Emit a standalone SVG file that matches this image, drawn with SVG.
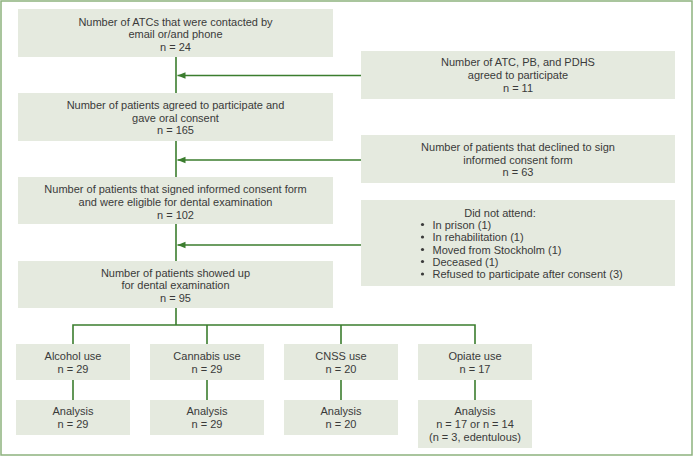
<svg xmlns="http://www.w3.org/2000/svg" width="693" height="456" viewBox="0 0 693 456">
<style>
.box{fill:#e5eadf;}
.t{font-family:"Liberation Sans",Arial,sans-serif;font-size:11px;fill:#3a3a3a;text-anchor:middle;}
.l{font-family:"Liberation Sans",Arial,sans-serif;font-size:11px;fill:#3a3a3a;}
.c{stroke:#3b7d2e;stroke-width:1.6;fill:none;}
</style>
<defs>
<marker id="ah" markerWidth="10" markerHeight="8" refX="8" refY="4" orient="auto" markerUnits="userSpaceOnUse">
<path d="M0,0.8 L8,4 L0,7.2 Z" fill="#3b7d2e"/>
</marker>
</defs>
<rect x="1" y="1" width="691" height="454" fill="#fff" stroke="#8db27e" stroke-width="1.5"/>
<g id="connectors">
<path class="c" d="M176,57 V93"/>
<path class="c" d="M176,141 V177"/>
<path class="c" d="M176,224 V261"/>
<path class="c" d="M176,308 V325"/>
<path class="c" d="M361,75.5 H177.5" marker-end="url(#ah)"/>
<path class="c" d="M361,160 H177.5" marker-end="url(#ah)"/>
<path class="c" d="M361,245 H177.5" marker-end="url(#ah)"/>
<path class="c" d="M73,344 V325 H475 V344"/>
<path class="c" d="M207,325 V344"/>
<path class="c" d="M341,325 V344"/>
<path class="c" d="M73,380 V400"/>
<path class="c" d="M207,380 V400"/>
<path class="c" d="M341,380 V400"/>
<path class="c" d="M475,380 V400"/>
</g>
<g id="n1"><rect class="box" x="18" y="9" width="315" height="48"/>
<text class="t" x="175.5" y="26">Number of ATCs that were contacted by</text>
<text class="t" x="175.5" y="38">email or/and phone</text>
<text class="t" x="175.5" y="51">n = 24</text></g>
<g id="n2"><rect class="box" x="18" y="93" width="315" height="48"/>
<text class="t" x="175.5" y="109">Number of patients agreed to participate and</text>
<text class="t" x="175.5" y="122">gave oral consent</text>
<text class="t" x="175.5" y="134">n = 165</text></g>
<g id="n3"><rect class="box" x="18" y="177" width="315" height="47"/>
<text class="t" x="175.5" y="193">Number of patients that signed informed consent form</text>
<text class="t" x="175.5" y="206">and were eligible for dental examination</text>
<text class="t" x="175.5" y="219">n = 102</text></g>
<g id="n4"><rect class="box" x="18" y="261" width="315" height="47"/>
<text class="t" x="175.5" y="277">Number of patients showed up</text>
<text class="t" x="175.5" y="289">for dental examination</text>
<text class="t" x="175.5" y="302">n = 95</text></g>
<g id="r1"><rect class="box" x="361" y="51" width="314" height="48"/>
<text class="t" x="518" y="66">Number of ATC, PB, and PDHS</text>
<text class="t" x="518" y="79">agreed to participate</text>
<text class="t" x="518" y="92">n = 11</text></g>
<g id="r2"><rect class="box" x="361" y="135" width="314" height="48"/>
<text class="t" x="518" y="151">Number of patients that declined to sign</text>
<text class="t" x="518" y="164">informed consent form</text>
<text class="t" x="518" y="176">n = 63</text></g>
<g id="r3"><rect class="box" x="361" y="200" width="314" height="86"/>
<text class="t" x="500" y="217">Did not attend:</text>
<g fill="#3a3a3a"><circle cx="422.5" cy="224.5" r="1.6"/><circle cx="422.5" cy="237" r="1.6"/><circle cx="422.5" cy="249.5" r="1.6"/><circle cx="422.5" cy="261.5" r="1.6"/><circle cx="422.5" cy="274" r="1.6"/></g>
<text class="l" x="432.5" y="228.5">In prison (1)</text>
<text class="l" x="432.5" y="241">In rehabilitation (1)</text>
<text class="l" x="432.5" y="253.5">Moved from Stockholm (1)</text>
<text class="l" x="432.5" y="265.5">Deceased (1)</text>
<text class="l" x="432.5" y="278">Refused to participate after consent (3)</text></g>
<g id="g1"><rect class="box" x="16" y="344" width="114" height="36"/>
<text class="t" x="73" y="360">Alcohol use</text><text class="t" x="73" y="373">n = 29</text></g>
<g id="g2"><rect class="box" x="150" y="344" width="114" height="36"/>
<text class="t" x="207" y="360">Cannabis use</text><text class="t" x="207" y="373">n = 29</text></g>
<g id="g3"><rect class="box" x="284" y="344" width="114" height="36"/>
<text class="t" x="341" y="360">CNSS use</text><text class="t" x="341" y="373">n = 20</text></g>
<g id="g4"><rect class="box" x="418" y="344" width="114" height="36"/>
<text class="t" x="475" y="360">Opiate use</text><text class="t" x="475" y="373">n = 17</text></g>
<g id="a1"><rect class="box" x="16" y="400" width="114" height="35"/>
<text class="t" x="73" y="415">Analysis</text><text class="t" x="73" y="428">n = 29</text></g>
<g id="a2"><rect class="box" x="150" y="400" width="114" height="35"/>
<text class="t" x="207" y="415">Analysis</text><text class="t" x="207" y="428">n = 29</text></g>
<g id="a3"><rect class="box" x="284" y="400" width="114" height="35"/>
<text class="t" x="341" y="415">Analysis</text><text class="t" x="341" y="428">n = 20</text></g>
<g id="a4"><rect class="box" x="418" y="400" width="114" height="48"/>
<text class="t" x="475" y="415">Analysis</text><text class="t" x="475" y="428">n = 17 or n = 14</text><text class="t" x="475" y="441">(n = 3, edentulous)</text></g>
</svg>
